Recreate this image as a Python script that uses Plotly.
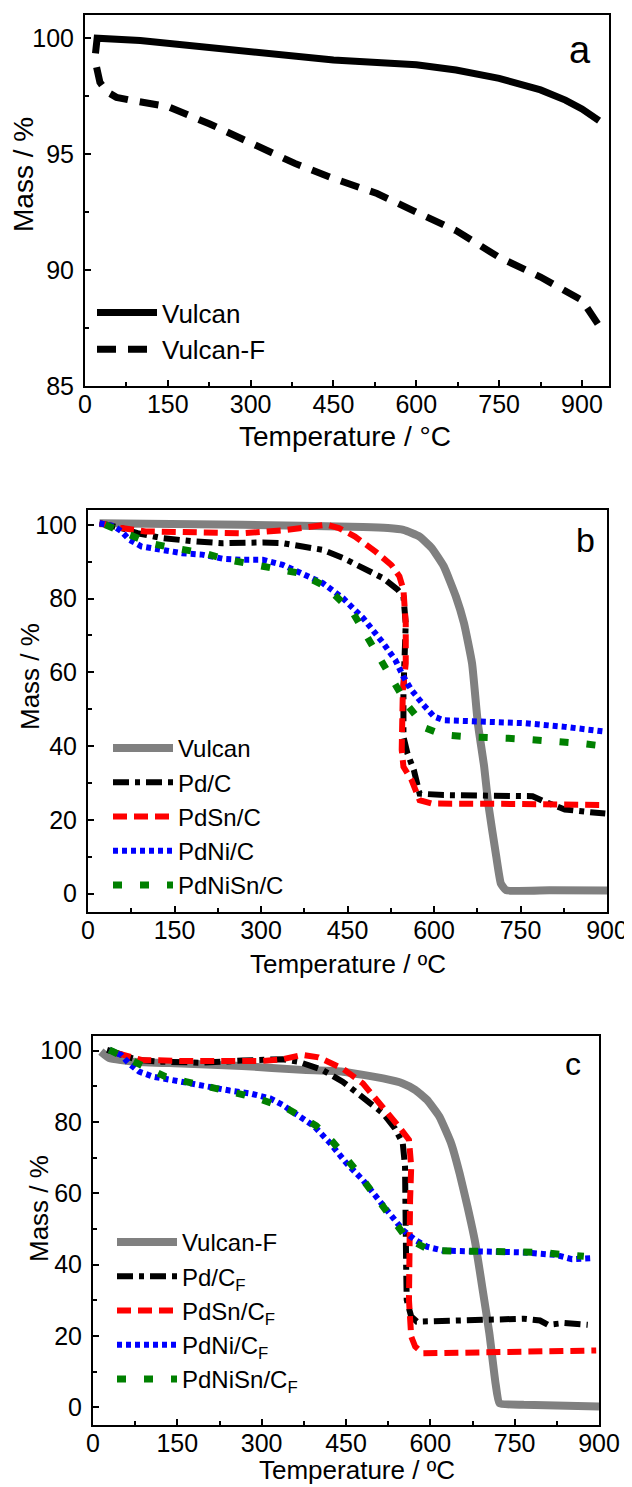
import plotly.graph_objects as go

W, H = 632, 1487

# ---------------- Panel a data ----------------
vulcan_a_T = [19, 20, 22, 100, 150, 300, 450, 600, 672, 750, 825, 870, 900, 931]
vulcan_a_m = [99.35, 99.8, 100.0, 99.9, 99.78, 99.35, 99.06, 98.85, 98.63, 98.27, 97.77, 97.33, 96.95, 96.44]
vulcanF_a_T = [21, 27, 39, 57, 88, 150, 226, 300, 380, 450, 529, 600, 672, 750, 825, 900, 931]
vulcanF_a_m = [98.75, 98.1, 97.7, 97.45, 97.3, 97.05, 96.3, 95.45, 94.6, 93.95, 93.3, 92.5, 91.7, 90.55, 89.7, 88.7, 87.6]

# ---------------- Panel b data ----------------
vulcan_b_T = [20, 268, 477, 520, 547, 575, 596, 617, 638, 652, 666, 676, 687, 694, 708, 716, 725, 800, 900]
vulcan_b_m = [100.4, 100.0, 99.4, 99.1, 98.6, 96.8, 93.7, 88.7, 80.5, 73.3, 62.4, 46.2, 34.4, 24.4, 10.0, 2.7, 0.9, 0.9, 0.8]
pd_b_T = [20, 58, 86, 128, 184, 233, 303, 338, 372, 407, 442, 477, 512, 537, 547, 551, 549, 547, 547, 554, 565, 575, 617, 722, 771, 792, 827, 862, 897]
pd_b_m = [100.4, 99.1, 97.7, 96.4, 95.5, 95.0, 95.2, 95.0, 94.1, 93.2, 91.0, 88.1, 85.5, 82.4, 80.5, 73.3, 64.3, 55.0, 42.5, 38.0, 33.5, 27.1, 26.7, 26.7, 26.4, 24.9, 22.8, 22.2, 21.7]
pdsn_b_T = [20, 58, 100, 198, 268, 338, 386, 414, 435, 463, 498, 526, 540, 547, 551, 551, 546, 544, 544, 547, 561, 575, 596, 750, 897]
pdsn_b_m = [100.4, 99.1, 98.2, 97.9, 97.7, 98.5, 99.7, 100.0, 99.1, 96.8, 92.8, 89.1, 86.0, 82.4, 73.3, 62.4, 55.2, 46.0, 39.0, 34.4, 30.8, 25.3, 24.4, 24.3, 24.0]
pdni_b_T = [20, 44, 58, 72, 93, 128, 163, 198, 233, 268, 303, 338, 372, 407, 442, 477, 512, 533, 547, 561, 582, 600, 617, 687, 757, 827, 897]
pdni_b_m = [100.4, 99.7, 98.2, 95.9, 94.1, 93.2, 92.3, 91.9, 90.8, 90.5, 90.5, 89.1, 86.9, 84.2, 80.1, 74.7, 67.9, 63.3, 58.8, 55.2, 51.1, 48.0, 47.0, 46.6, 46.2, 45.2, 43.9]
pdnisn_b_T = [30, 65, 107, 142, 163, 201, 243, 289, 331, 366, 407, 425, 460, 488, 516, 544, 554, 586, 617, 659, 687, 729, 764, 813, 855, 894]
pdnisn_b_m = [100.0, 97.7, 95.0, 93.9, 93.4, 92.3, 90.5, 89.1, 88.2, 86.9, 83.7, 81.4, 76.0, 68.8, 61.1, 54.3, 51.1, 44.8, 43.0, 42.5, 42.5, 42.1, 41.8, 41.4, 40.7, 40.0]

# ---------------- Panel c data ----------------
vulcanF_c_T = [14, 29, 72, 158, 265, 372, 444, 516, 551, 573, 594, 616, 637, 652, 666, 680, 694, 705, 716, 723, 766, 900]
vulcanF_c_m = [99.7, 97.9, 96.9, 96.4, 95.7, 94.6, 94.1, 92.2, 90.8, 89.0, 86.2, 81.5, 74.0, 65.6, 56.3, 46.0, 32.0, 20.7, 6.7, 1.1, 0.65, 0.2]
pd_c_T = [25, 50, 79, 122, 193, 265, 337, 365, 408, 444, 480, 516, 537, 551, 555, 555, 557, 557, 558, 566, 576, 623, 730, 766, 795, 809, 838, 880]
pd_c_m = [100.2, 98.8, 97.4, 96.9, 96.6, 97.2, 97.6, 96.9, 94.6, 91.3, 87.1, 82.4, 78.2, 74.0, 67.5, 58.1, 48.8, 39.4, 30.1, 25.4, 24.0, 24.3, 24.7, 24.8, 24.3, 23.1, 23.6, 23.1]
pdsn_c_T = [43, 86, 158, 229, 301, 337, 372, 401, 444, 480, 516, 544, 562, 566, 564, 562, 562, 566, 573, 587, 659, 766, 895]
pdsn_c_m = [99.3, 97.4, 97.1, 97.2, 97.1, 97.6, 98.8, 98.1, 95.0, 90.8, 84.3, 78.7, 75.0, 67.5, 58.1, 44.1, 30.1, 19.8, 17.0, 15.1, 15.3, 15.6, 15.9]
pdni_c_T = [29, 50, 64, 82, 107, 136, 172, 208, 243, 279, 315, 337, 365, 394, 422, 451, 480, 508, 530, 551, 573, 594, 623, 694, 766, 823, 852, 888]
pdni_c_m = [100.2, 98.8, 96.4, 94.1, 92.7, 91.8, 90.8, 89.7, 88.8, 88.0, 86.6, 84.8, 82.0, 78.7, 74.0, 68.4, 63.7, 58.1, 53.4, 49.7, 46.9, 45.0, 43.9, 43.6, 43.4, 42.7, 41.5, 41.8]
pdnisn_c_T = [29, 79, 129, 165, 222, 268, 297, 347, 397, 426, 465, 505, 541, 558, 601, 659, 687, 741, 795, 820, 873]
pdnisn_c_m = [100.2, 96.4, 92.7, 91.3, 89.4, 87.6, 86.4, 83.6, 78.9, 74.5, 67.0, 58.6, 50.7, 47.4, 43.9, 43.6, 43.4, 43.6, 43.4, 43.2, 42.3]

names_a = ["Vulcan", "Vulcan-F"]
names_b = ["Vulcan", "Pd/C", "PdSn/C", "PdNi/C", "PdNiSn/C"]
names_c = ["Vulcan-F", "Pd/C<sub>F</sub>", "PdSn/C<sub>F</sub>", "PdNi/C<sub>F</sub>", "PdNiSn/C<sub>F</sub>"]
panel_labels = ["a", "b", "c"]
x_titles = ["Temperature / °C", "Temperature / ºC", "Temperature / ºC"]
y_title = "Mass / %"
x_ticks = [0, 150, 300, 450, 600, 750, 900]
y_ticks_a = [85, 90, 95, 100]
y_ticks_bc = [0, 20, 40, 60, 80, 100]

FONT = "Liberation Sans, Arial, sans-serif"
PAGE_OFFSET = 8  # default page margin around the figure

styles = {
    "Vulcan": dict(color="#808080", width=8, dash="solid", shape="spline", smoothing=0.4),
    "Pd/C": dict(color="#000000", width=6, dash="16px,6px,5px,6px"),
    "PdSn/C": dict(color="#ff0000", width=6, dash="14px,7px"),
    "PdNi/C": dict(color="#0000ff", width=6, dash="5px,4px"),
    "PdNiSn/C": dict(color="#008000", width=7, dash="9px,18px"),
}

fig = go.Figure()

# panel a
fig.add_trace(go.Scatter(x=vulcan_a_T, y=vulcan_a_m, name=names_a[0], mode="lines",
                         line=dict(color="black", width=7), xaxis="x", yaxis="y", legend="legend"))
fig.add_trace(go.Scatter(x=vulcanF_a_T, y=vulcanF_a_m, name=names_a[1], mode="lines",
                         line=dict(color="black", width=7, dash="19px,12px"), xaxis="x", yaxis="y", legend="legend"))

keys = ["Vulcan", "Pd/C", "PdSn/C", "PdNi/C", "PdNiSn/C"]
b_data = [(vulcan_b_T, vulcan_b_m), (pd_b_T, pd_b_m), (pdsn_b_T, pdsn_b_m), (pdni_b_T, pdni_b_m), (pdnisn_b_T, pdnisn_b_m)]
c_data = [(vulcanF_c_T, vulcanF_c_m), (pd_c_T, pd_c_m), (pdsn_c_T, pdsn_c_m), (pdni_c_T, pdni_c_m), (pdnisn_c_T, pdnisn_c_m)]
for k, nm, (tx, my) in zip(keys, names_b, b_data):
    fig.add_trace(go.Scatter(x=tx, y=my, name=nm, mode="lines", line=styles[k],
                             xaxis="x2", yaxis="y2", legend="legend2"))
for k, nm, (tx, my) in zip(keys, names_c, c_data):
    fig.add_trace(go.Scatter(x=tx, y=my, name=nm, mode="lines", line=styles[k],
                             xaxis="x3", yaxis="y3", legend="legend3"))

def px_x(p):
    return (p - PAGE_OFFSET) / W

def px_y(p):
    return 1 - (p - PAGE_OFFSET) / H

axis_common = dict(showline=True, linecolor="black", linewidth=2, mirror=True,
                   ticks="inside", ticklen=6, tickwidth=2, tickcolor="black",
                   showgrid=False, zeroline=False, automargin=False,
                   tickfont=dict(family=FONT, size=25, color="black"))

frames = {
    "a": (85, 609, 15, 386),
    "b": (88, 607, 510, 912),
    "c": (93, 599, 1036, 1425),
}

def xax(fr, rng, anchor):
    l, r, t, b = fr
    return dict(axis_common, domain=[px_x(l), px_x(r)], range=rng, anchor=anchor,
                tickvals=x_ticks, ticklabelstandoff=-5,
                minor=dict(ticks="inside", dtick=75, tick0=0, ticklen=4, tickwidth=2, tickcolor="black"))

def yax(fr, rng, tv, mdt, anchor):
    l, r, t, b = fr
    return dict(axis_common, domain=[px_y(b), px_y(t)], range=rng, anchor=anchor,
                tickvals=tv, ticklabelstandoff=4,
                minor=dict(ticks="inside", dtick=mdt, tick0=0, ticklen=4, tickwidth=2, tickcolor="black"))

leg_common = dict(bgcolor="rgba(0,0,0,0)", xref="paper", yref="paper",
                  xanchor="left", yanchor="top", itemwidth=60, tracegroupgap=0)

def ann(text, x, y, size, angle=0):
    return dict(text=text, x=px_x(x), y=px_y(y), xref="paper", yref="paper", showarrow=False,
                xanchor="center", yanchor="middle", textangle=angle,
                font=dict(family=FONT, size=size, color="black"))

fig.update_layout(
    template="none",
    width=W, height=H,
    margin=dict(l=0, r=0, t=0, b=0, autoexpand=False),
    paper_bgcolor="white", plot_bgcolor="white",
    xaxis=xax(frames["a"], [0, 949], "y"),
    yaxis=yax(frames["a"], [85, 101], y_ticks_a, 2.5, "x"),
    xaxis2=xax(frames["b"], [0, 900], "y2"),
    yaxis2=yax(frames["b"], [-5, 104], y_ticks_bc, 10, "x2"),
    xaxis3=xax(frames["c"], [0, 900], "y3"),
    yaxis3=yax(frames["c"], [-5, 104.1], y_ticks_bc, 10, "x3"),
    legend=dict(leg_common, x=px_x(92), y=px_y(289), font=dict(family=FONT, size=26, color="black")),
    legend2=dict(leg_common, x=px_x(108), y=px_y(726), font=dict(family=FONT, size=24, color="black")),
    legend3=dict(leg_common, x=px_x(112), y=px_y(1220), font=dict(family=FONT, size=24, color="black")),
    annotations=[
        ann(panel_labels[0], 580, 50, 38),
        ann(panel_labels[1], 585, 540, 34),
        ann(panel_labels[2], 573, 1064, 32),
        ann(x_titles[0], 345, 437, 28),
        ann(x_titles[1], 348, 964, 26),
        ann(x_titles[2], 357, 1470, 26),
        ann(y_title, 24, 175, 28, -90),
        ann(y_title, 30, 677, 26, -90),
        ann(y_title, 39, 1209, 26, -90),
    ],
)

fig.write_html("out.html")
